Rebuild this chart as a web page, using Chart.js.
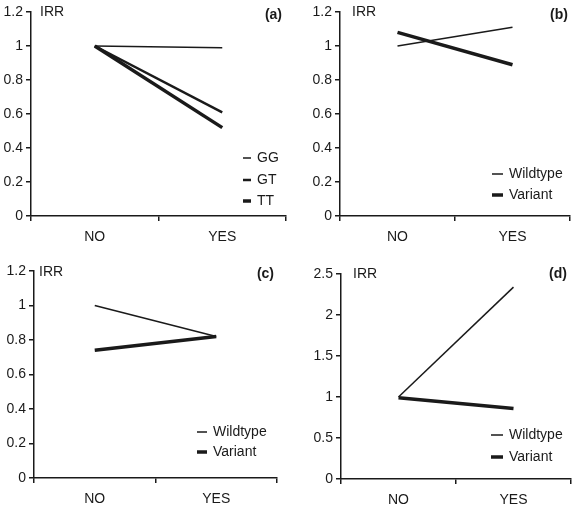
<!DOCTYPE html>
<html>
<head>
<meta charset="utf-8">
<script src="https://cdn.jsdelivr.net/npm/chart.js@4.4.1/dist/chart.umd.min.js"></script>
<style>
  body { margin: 0; background: #fff; }
  #wrap { position: relative; width: 572px; height: 507px; overflow: hidden; }
  canvas { position: absolute; }
</style>
</head>
<body>
<div id="wrap">
  <canvas id="pa" width="288" height="250" style="left:0;top:0"></canvas>
  <canvas id="pb" width="284" height="250" style="left:288px;top:0"></canvas>
  <canvas id="pc" width="288" height="252" style="left:0;top:255px"></canvas>
  <canvas id="pd" width="284" height="252" style="left:288px;top:255px"></canvas>
</div>
<script>
// data
const categories = ['NO', 'YES']

const aGG = [1, 0.99]
const aGT = [1, 0.61]
const aTT = [1, 0.52]

const bWildtype = [1, 1.11]
const bVariant = [1.08, 0.89]

const cWildtype = [1, 0.82]
const cVariant = [0.74, 0.82]

const dWildtype = [1, 2.34]
const dVariant = [0.99, 0.86]

const ticksSmall = [0, 0.2, 0.4, 0.6, 0.8, 1, 1.2]
const ticksBig = [0, 0.5, 1, 1.5, 2, 2.5]

const FONT = "'Liberation Sans', Arial, sans-serif"
const INK = '#1a1a1a'

// draws IRR, the panel letter and the little legend
const panelText = {
    id: 'panelText',
    afterDraw(chart, args, opts) {
        const ctx = chart.ctx
        const a = chart.chartArea
        ctx.save()
        ctx.fillStyle = INK
        ctx.textBaseline = 'middle'
        ctx.font = '14px ' + FONT
        ctx.textAlign = 'left'
        ctx.fillText('IRR', a.left + opts.irrX, a.top + opts.irrY)
        ctx.font = 'bold 14px ' + FONT
        ctx.textAlign = 'right'
        ctx.fillText(opts.letter, a.right - opts.letterX, a.top + opts.letterY)
        ctx.font = '14px ' + FONT
        ctx.textAlign = 'left'
        chart.data.datasets.forEach((ds, i) => {
            const y = a.bottom - opts.legendY[i]
            ctx.strokeStyle = INK
            ctx.lineWidth = ds.borderWidth
            ctx.beginPath()
            ctx.moveTo(opts.legendX, y)
            ctx.lineTo(opts.legendX + opts.legendLen, y)
            ctx.stroke()
            ctx.fillText(ds.label, opts.legendX + opts.legendLen + 6, y)
        })
        ctx.restore()
    }
}

function makePanel(id, series, tickList, layout, text) {
    const ctx = document.getElementById(id).getContext('2d')
    return new Chart(ctx, {
        type: 'line',
        data: {
            labels: categories,
            datasets: series.map(s => ({
                label: s.label,
                data: s.data,
                borderColor: INK,
                borderWidth: s.width,
                pointRadius: 0,
                tension: 0,
                fill: false
            }))
        },
        options: {
            responsive: false,
            animation: false,
            layout: { padding: { top: layout.top, right: layout.right, left: 0, bottom: 0 } },
            plugins: {
                legend: { display: false },
                tooltip: { enabled: false },
                panelText: text
            },
            scales: {
                x: {
                    offset: true,
                    border: { color: INK, width: 1.5 },
                    grid: { offset: true, drawOnChartArea: false, drawTicks: true, tickLength: 5, color: INK, lineWidth: 1.5 },
                    ticks: { color: INK, font: { family: FONT, size: 14 }, padding: 8, maxRotation: 0 },
                    afterFit: scale => { scale.height = layout.xh }
                },
                y: {
                    min: tickList[0],
                    max: tickList[tickList.length - 1],
                    border: { color: INK, width: 1.5 },
                    grid: { drawOnChartArea: false, drawTicks: true, tickLength: 5, color: INK, lineWidth: 1.5 },
                    ticks: { color: INK, font: { family: FONT, size: 14 }, padding: 3, callback: v => String(v) },
                    afterBuildTicks: scale => { scale.ticks = tickList.map(v => ({ value: v })) },
                    afterFit: scale => { scale.width = layout.yw }
                }
            }
        },
        plugins: [panelText]
    })
}

makePanel('pa', [
    { label: 'GG', data: aGG, width: 1.5 },
    { label: 'GT', data: aGT, width: 2.5 },
    { label: 'TT', data: aTT, width: 3.5 }
], ticksSmall, { top: 12, right: 2, xh: 34, yw: 31 },
   { letter: '(a)', irrX: 9, irrY: 0, letterX: 4, letterY: 3, legendX: 243, legendLen: 8, legendY: [58, 36, 15] })

makePanel('pb', [
    { label: 'Wildtype', data: bWildtype, width: 1.5 },
    { label: 'Variant', data: bVariant, width: 3.5 }
], ticksSmall, { top: 12, right: 2, xh: 34, yw: 52 },
   { letter: '(b)', irrX: 12, irrY: 0, letterX: 2, letterY: 3, legendX: 204, legendLen: 11, legendY: [42, 21] })

makePanel('pc', [
    { label: 'Wildtype', data: cWildtype, width: 1.5 },
    { label: 'Variant', data: cVariant, width: 3.5 }
], ticksSmall, { top: 16, right: 11, xh: 29, yw: 34 },
   { letter: '(c)', irrX: 5, irrY: 1, letterX: 3, letterY: 3, legendX: 197, legendLen: 10, legendY: [46, 26] })

makePanel('pd', [
    { label: 'Wildtype', data: dWildtype, width: 1.5 },
    { label: 'Variant', data: dVariant, width: 3.5 }
], ticksBig, { top: 19, right: 1, xh: 28, yw: 53 },
   { letter: '(d)', irrX: 12, irrY: 0, letterX: 4, letterY: 0, legendX: 203, legendLen: 12, legendY: [44, 22] })
</script>
</body>
</html>
